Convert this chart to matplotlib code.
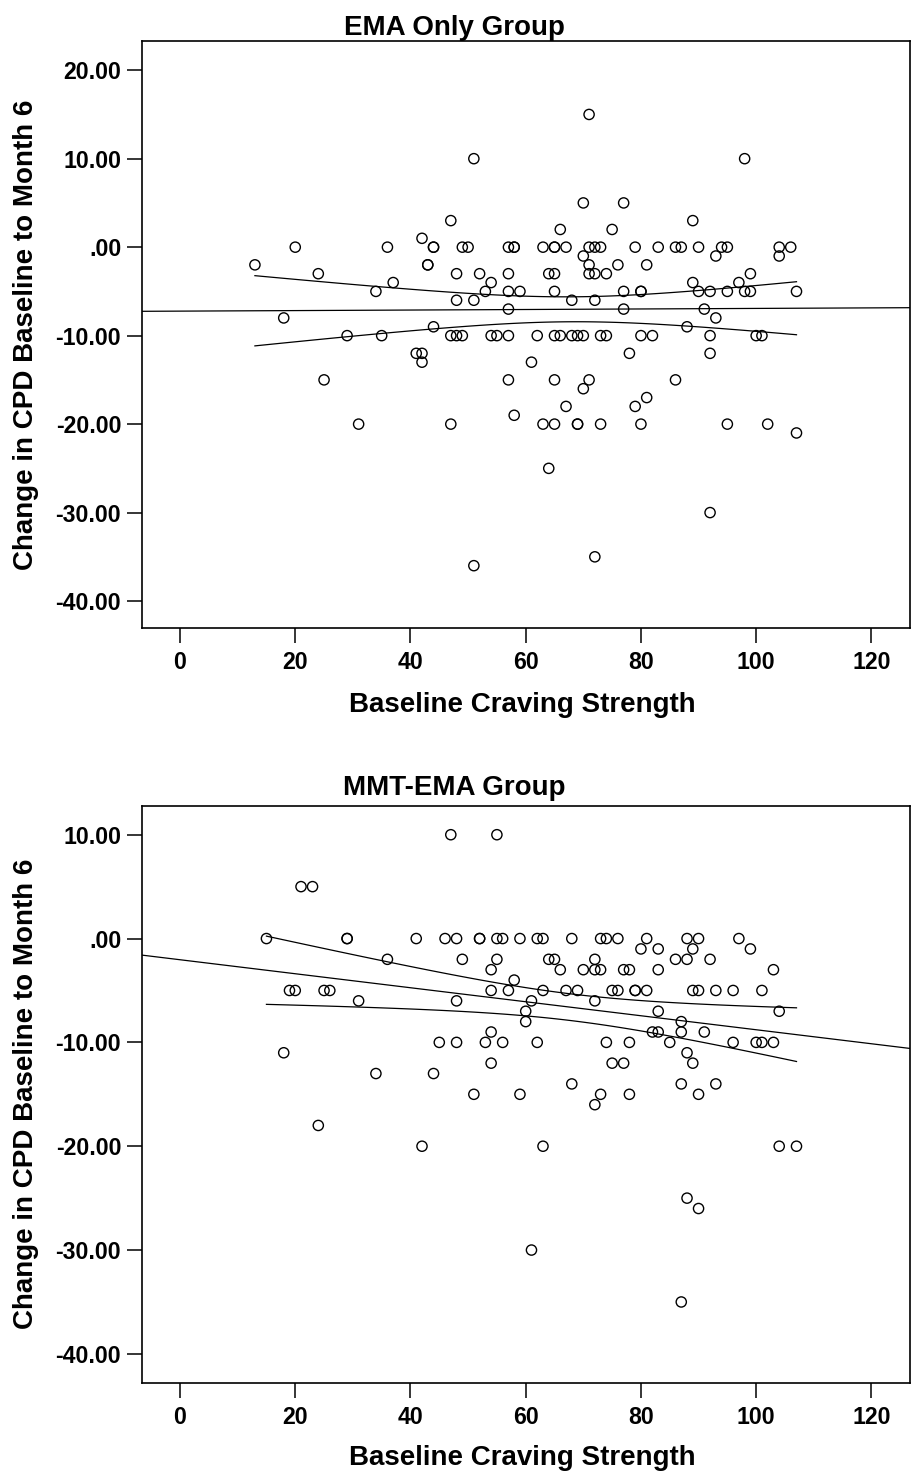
import matplotlib
matplotlib.use("Agg")
import matplotlib.pyplot as plt
from matplotlib.ticker import FuncFormatter
import numpy as np

plt.rcParams['font.family'] = ['Liberation Sans', 'DejaVu Sans']
plt.rcParams['font.weight'] = 'bold'

# EMA Only group: baseline craving vs change in CPD
ema_x = [51, 47, 42, 20, 36, 44, 44, 49, 50, 57, 58, 58, 13, 43, 43, 24, 48, 52, 57, 37,
         54, 34, 53, 57, 59, 48, 51, 57, 18, 44,
         71, 98, 70, 77, 89, 66, 75, 63, 65, 65, 67, 71, 72, 73, 79, 83, 86, 87, 90, 94,
         95, 104, 106, 70, 93, 104, 71, 76, 81, 64, 65, 71, 72, 74, 99, 89, 97, 65, 77, 80,
         80, 90, 92, 95, 98, 99, 107, 68, 72, 77, 91, 93, 88,
         29, 35, 47, 48, 49, 54, 55, 57, 41, 42, 42, 25, 57, 58, 31, 47, 51,
         62, 65, 66, 68, 69, 70, 73, 74, 80, 82, 92, 100, 101, 78, 92, 61, 65, 71, 86, 70,
         81, 67, 79, 63, 65, 69, 69, 73, 80, 95, 102, 107, 64, 92, 72]
ema_y = [10, 3, 1, 0, 0, 0, 0, 0, 0, 0, 0, 0, -2, -2, -2, -3, -3, -3, -3, -4,
         -4, -5, -5, -5, -5, -6, -6, -7, -8, -9,
         15, 10, 5, 5, 3, 2, 2, 0, 0, 0, 0, 0, 0, 0, 0, 0, 0, 0, 0, 0,
         0, 0, 0, -1, -1, -1, -2, -2, -2, -3, -3, -3, -3, -3, -3, -4, -4, -5, -5, -5,
         -5, -5, -5, -5, -5, -5, -5, -6, -6, -7, -7, -8, -9,
         -10, -10, -10, -10, -10, -10, -10, -10, -12, -12, -13, -15, -15, -19, -20, -20, -36,
         -10, -10, -10, -10, -10, -10, -10, -10, -10, -10, -10, -10, -10, -12, -12, -13, -15, -15, -15, -16,
         -17, -18, -18, -20, -20, -20, -20, -20, -20, -20, -20, -21, -25, -30, -35]

# MMT-EMA group
mmt_x = [47, 55, 21, 23, 15, 29, 29, 41, 46, 48, 52, 52, 55, 56, 59, 36, 49, 55, 54, 58,
         19, 20, 25, 26, 54, 57, 31, 48, 60, 60, 54, 45, 48, 53, 56, 18, 54, 34, 44,
         62, 63, 68, 73, 74, 76, 81, 88, 90, 97, 80, 83, 89, 99, 64, 65, 72, 86, 88, 92,
         66, 70, 72, 73, 77, 78, 83, 103, 63, 67, 69, 75, 76, 79, 79, 81, 89, 90, 93, 96,
         101, 61, 72, 83, 104, 87, 82, 83, 87, 91, 62, 74, 78, 85, 96, 100, 101, 103, 88,
         75, 77, 89,
         51, 59, 24, 42, 61, 68, 87, 93, 73, 78, 90, 72, 63, 104, 107, 88, 90, 87]
mmt_y = [10, 10, 5, 5, 0, 0, 0, 0, 0, 0, 0, 0, 0, 0, 0, -2, -2, -2, -3, -4,
         -5, -5, -5, -5, -5, -5, -6, -6, -7, -8, -9, -10, -10, -10, -10, -11, -12, -13, -13,
         0, 0, 0, 0, 0, 0, 0, 0, 0, 0, -1, -1, -1, -1, -2, -2, -2, -2, -2, -2,
         -3, -3, -3, -3, -3, -3, -3, -3, -5, -5, -5, -5, -5, -5, -5, -5, -5, -5, -5, -5,
         -5, -6, -6, -7, -7, -8, -9, -9, -9, -9, -10, -10, -10, -10, -10, -10, -10, -10, -11,
         -12, -12, -12,
         -15, -15, -18, -20, -30, -14, -14, -14, -15, -15, -15, -16, -20, -20, -20, -25, -26, -35]

x_ticks = [0, 20, 40, 60, 80, 100, 120]
ema_yticks = [20, 10, 0, -10, -20, -30, -40]
mmt_yticks = [10, 0, -10, -20, -30, -40]


def spss_fmt(v, pos):
    s = f"{v:.2f}"
    if abs(v) < 1:
        s = s.replace("0.", ".", 1)
    return s


def draw_panel(ax, x, y, yticks, ylim):
    x = np.array(x, dtype=float)
    y = np.array(y, dtype=float)
    xlim = (-6.6, 126.7)

    ax.scatter(x, y, s=54, facecolors='none', edgecolors='black', linewidths=1.0, zorder=3)

    # linear fit with 95% CI of the mean
    b, a = np.polyfit(x, y, 1)
    n = len(x)
    resid = y - (a + b * x)
    s = np.sqrt(np.sum(resid ** 2) / (n - 2))
    sxx = np.sum((x - x.mean()) ** 2)
    t = 1.976
    xl = np.linspace(xlim[0], xlim[1], 100)
    ax.plot(xl, a + b * xl, color='black', lw=0.9)
    xc = np.linspace(x.min(), x.max(), 100)
    se = s * np.sqrt(1 / n + (xc - x.mean()) ** 2 / sxx)
    ax.plot(xc, a + b * xc + t * se, color='black', lw=0.9)
    ax.plot(xc, a + b * xc - t * se, color='black', lw=0.9)

    ax.set_xlim(*xlim)
    ax.set_ylim(*ylim)
    ax.set_xticks(x_ticks)
    ax.set_yticks(yticks)
    ax.yaxis.set_major_formatter(FuncFormatter(spss_fmt))
    ax.tick_params(axis='x', length=10.5, width=1.1, pad=6, labelsize=16.7)
    ax.tick_params(axis='y', length=10.5, width=1.1, pad=4.5, labelsize=16.7)
    for lab in ax.get_xticklabels() + ax.get_yticklabels():
        lab.set_fontweight('bold')
    for sp in ax.spines.values():
        sp.set_linewidth(1.2)


fig = plt.figure(figsize=(9.12, 14.75), dpi=100)

ax1 = fig.add_axes([0.1557, 0.5742, 0.8421, 0.3980])
draw_panel(ax1, ema_x, ema_y, ema_yticks, (-43.05, 23.3))

ax2 = fig.add_axes([0.1557, 0.0624, 0.8421, 0.3914])
draw_panel(ax2, mmt_x, mmt_y, mmt_yticks, (-42.8, 12.8))

fig.text(0.498, 1 - 35 / 1475, "EMA Only Group", ha='center', va='baseline',
         fontsize=20, fontweight='bold')
fig.text(0.498, 1 - 795 / 1475, "MMT-EMA Group", ha='center', va='baseline',
         fontsize=20, fontweight='bold')

fig.text(0.5725, 1 - 712 / 1475, "Baseline Craving Strength", ha='center', va='baseline',
         fontsize=20, fontweight='bold')
fig.text(0.5725, 1 - 1465 / 1475, "Baseline Craving Strength", ha='center', va='baseline',
         fontsize=20, fontweight='bold')

fig.text(0.029, 1 - 335 / 1475, "Change in CPD Baseline to Month 6", rotation=90,
         ha='center', va='center', fontsize=20, fontweight='bold')
fig.text(0.029, 1 - 1094 / 1475, "Change in CPD Baseline to Month 6", rotation=90,
         ha='center', va='center', fontsize=20, fontweight='bold')

fig.savefig("out.png", dpi=100)
